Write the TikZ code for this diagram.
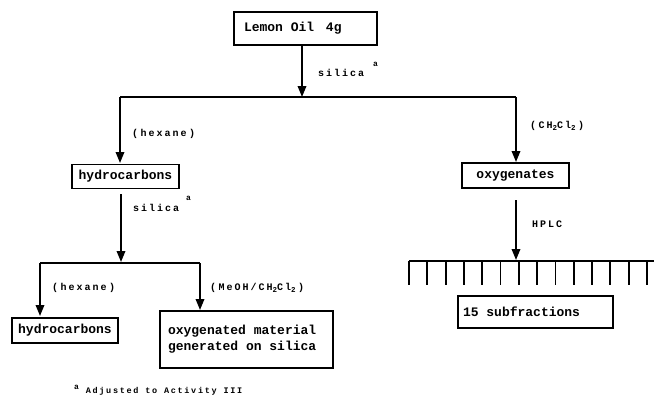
\documentclass[tikz,border=0pt]{standalone}
\usepackage{fontspec}
\newfontfamily\boxfont{Liberation Mono}
\newfontfamily\lblfont{Liberation Mono}[LetterSpace=20]
\usetikzlibrary{arrows.meta}
\newcommand\lowsub[1]{\raisebox{-0.45ex}{\fontsize{7.5}{7.5}\selectfont #1}}
\newcommand\footmark{\raisebox{0.8ex}{\fontsize{8}{8}\selectfont a}}
\newcommand\msp{\hspace{7.8pt}}
\newcommand\lpar{(\hspace{2.5pt}}
\newcommand\rpar{\hspace{2.5pt})}
\tikzset{
  box/.style={draw, line width=1.8pt, font=\boxfont\bfseries\fontsize{13}{16}\selectfont, inner sep=0pt},
  lbl/.style={font=\lblfont\bfseries\fontsize{10}{11}\selectfont, inner sep=0pt, anchor=base west},
  ln/.style={line width=1.8pt},
  flow/.style={line width=1.8pt, -{Triangle[length=11pt,width=8.5pt]}},
}
\begin{document}
\begin{tikzpicture}[x=1pt,y=-1pt]
\useasboundingbox (0,0) rectangle (654,408);
% boxes
\node[box, minimum width=143pt, minimum height=33pt, text width=123pt, align=left] (lemon) at (305.5,28.5) {Lemon\msp Oil\msp\hspace{4pt}4g};
\node[box, minimum width=107pt, minimum height=24pt] (hyd1) at (125.5,176.5) {hydrocarbons};
\node[box, minimum width=107pt, minimum height=25pt] (oxy) at (515.5,175.5) {oxygenates};
\node[box, minimum width=106pt, minimum height=25pt] (hyd2) at (65,330.5) {hydrocarbons};
\node[box, minimum width=173pt, minimum height=57pt, text width=157pt, align=left] (oxm) at (246.5,339.5) {oxygenated\msp material\\generated\msp on\msp silica};
\node[box, minimum width=155pt, minimum height=32pt, text width=145pt, align=left] (sub) at (535.5,312) {15\msp subfractions};
% coordinates
\coordinate (s1) at (302,97);
\coordinate (l1) at (120,97);
\coordinate (r1) at (516,97);
\coordinate (hyd1top) at (120,163);
\coordinate (oxytop) at (516,162);
\coordinate (s2a) at (121,194);
\coordinate (s2) at (121,262);
\coordinate (l2) at (40,263);
\coordinate (r2) at (200,263);
\coordinate (hyd2top) at (40,316);
\coordinate (oxmtop) at (200,310);
\coordinate (hpa) at (516,200);
\coordinate (hp) at (516,260);
\coordinate (combL) at (409,261);
\coordinate (combR) at (654,261);
% connectors
\draw[flow] (lemon.south -| s1) -- (s1);
\draw[ln] (l1) -- (r1);
\draw[flow] (l1) -- (hyd1top);
\draw[flow] (r1) -- (oxytop);
\draw[flow] (s2a) -- (s2);
\draw[ln] (l2) -- (r2);
\draw[flow] (l2) -- (hyd2top);
\draw[flow] (r2) -- (oxmtop);
\draw[flow] (hpa) -- (hp);
\draw[ln] (combL) -- (combR);
\foreach \i in {0,...,13} {
  \draw[ln] (409+\i*18.3,261) -- (409+\i*18.3,285);
}
% labels
\node[lbl] (t1) at (318,76) {silica};
\node[lbl] (t1a) at (373,71) {\footmark};
\node[lbl] (t2) at (132,136) {\lpar hexane\rpar};
\node[lbl] (t3) at (530,128) {\lpar CH\lowsub{2}Cl\lowsub{2}\rpar};
\node[lbl] (t4) at (133,211) {silica};
\node[lbl] (t4a) at (186,205) {\footmark};
\node[lbl] (t5) at (532,227) {HPLC};
\node[lbl] (t6) at (52,290) {\lpar hexane\rpar};
\node[lbl] (t7) at (210,290) {\lpar MeOH/CH\lowsub{2}Cl\lowsub{2}\rpar};
\node[lbl, font=\lblfont\bfseries\fontsize{8.5}{10}\selectfont] (fn) at (74,393) {\footmark\ Adjusted to Activity III};
\end{tikzpicture}
\end{document}
